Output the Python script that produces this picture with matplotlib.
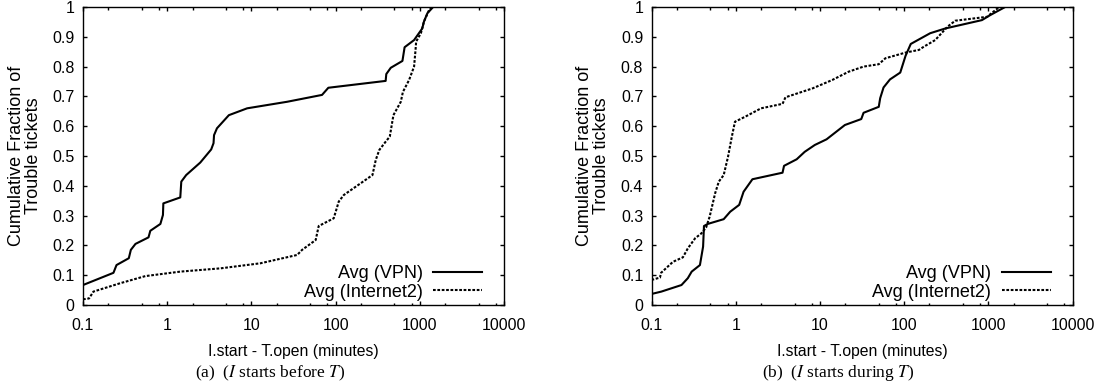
import matplotlib
matplotlib.use("Agg")
import matplotlib.pyplot as plt
from matplotlib.ticker import LogLocator, FixedLocator, NullFormatter

plt.rcParams["font.family"] = ["Liberation Sans", "DejaVu Sans"]
plt.rcParams["mathtext.fontset"] = "stix"

# (a) I starts before T
A_VPN_X = [0.1, 0.23, 0.25, 0.35, 0.37, 0.42, 0.60, 0.63, 0.83, 0.89, 0.90, 1.43, 1.47,
           1.68, 2.47, 3.33, 3.55, 3.6, 3.9, 5.4, 8.9, 26.6, 69, 82, 393, 400, 452, 622,
           660, 855, 1070, 1120, 1230, 1440]
A_VPN_Y = [0.067, 0.108, 0.134, 0.157, 0.185, 0.205, 0.227, 0.249, 0.272, 0.302, 0.341,
           0.361, 0.414, 0.436, 0.478, 0.522, 0.543, 0.570, 0.593, 0.637, 0.660, 0.682,
           0.705, 0.729, 0.752, 0.775, 0.796, 0.819, 0.865, 0.889, 0.928, 0.951, 0.979, 1.0]
A_I2_X = [0.1, 0.118, 0.133, 0.276, 0.55, 1.43, 4.3, 12.8, 35, 40, 58, 63, 95, 109, 125,
          274, 300, 330, 393, 440, 486, 595, 630, 746, 855, 890, 905, 1030, 1120, 1290, 1400]
A_I2_Y = [0.019, 0.022, 0.045, 0.073, 0.097, 0.112, 0.123, 0.140, 0.168, 0.185, 0.218,
          0.265, 0.291, 0.347, 0.369, 0.436, 0.487, 0.52, 0.548, 0.565, 0.637, 0.682,
          0.715, 0.755, 0.800, 0.856, 0.884, 0.912, 0.951, 0.99, 1.0]

# (b) I starts during T
B_VPN_X = [0.1, 0.131, 0.227, 0.27, 0.30, 0.376, 0.41, 0.42, 0.465, 0.72, 0.86, 1.1, 1.24,
           1.58, 3.6, 3.75, 5.3, 6.6, 8.7, 12, 19.8, 31, 33, 50, 52, 57, 68, 90, 104, 120,
           204, 309, 840, 1057, 1585]
B_VPN_Y = [0.037, 0.045, 0.067, 0.090, 0.112, 0.134, 0.196, 0.265, 0.272, 0.288, 0.313,
           0.336, 0.380, 0.422, 0.444, 0.467, 0.489, 0.514, 0.537, 0.556, 0.604, 0.624,
           0.645, 0.665, 0.694, 0.730, 0.757, 0.780, 0.836, 0.876, 0.912, 0.928, 0.956,
           0.973, 1.0]
B_I2_X = [0.1, 0.126, 0.13, 0.18, 0.236, 0.27, 0.33, 0.39, 0.445, 0.49, 0.57, 0.63, 0.72,
          0.81, 0.90, 0.98, 1.3, 2.0, 3.6, 3.9, 8.2, 14, 22, 33, 50, 60, 104, 150, 172, 234,
          328, 405, 965, 1350]
B_I2_Y = [0.084, 0.092, 0.108, 0.145, 0.160, 0.190, 0.224, 0.240, 0.260, 0.296, 0.375,
          0.414, 0.436, 0.497, 0.565, 0.615, 0.632, 0.660, 0.675, 0.697, 0.727, 0.755,
          0.783, 0.800, 0.808, 0.828, 0.847, 0.856, 0.867, 0.889, 0.934, 0.954, 0.967, 1.0]

X_TICKS = [0.1, 1, 10, 100, 1000, 10000]
X_TICKLABELS = ["0.1", "1", "10", "100", "1000", "10000"]
Y_TICKS = [i / 10 for i in range(11)]
Y_TICKLABELS = ["0", "0.1", "0.2", "0.3", "0.4", "0.5", "0.6", "0.7", "0.8", "0.9", "1"]
CAPTIONS = ["(a)  ($I$ starts before $T$)", "(b)  ($I$ starts during $T$)"]

W, H = 1106, 385
fig = plt.figure(figsize=(W / 100, H / 100), dpi=100)

panels = [
    (83, A_VPN_X, A_VPN_Y, A_I2_X, A_I2_Y, CAPTIONS[0]),
    (651.5, B_VPN_X, B_VPN_Y, B_I2_X, B_I2_Y, CAPTIONS[1]),
]
for left, vx, vy, ix, iy, cap in panels:
    ax = fig.add_axes([left / W, 80 / H, 421 / W, 298 / H])
    ax.plot(vx, vy, "-", color="black", lw=1.5, label="Avg (VPN)")
    ax.plot(ix, iy, color="black", lw=1.5, dashes=(1.3, 0.8), label="Avg (Internet2)")
    ax.set_xscale("log")
    ax.set_xlim(0.1, 10000)
    ax.set_ylim(0, 1)
    ax.xaxis.set_major_locator(FixedLocator(X_TICKS))
    ax.set_xticklabels(X_TICKLABELS)
    ax.xaxis.set_minor_locator(LogLocator(base=10, subs=(2, 5, 8)))
    ax.xaxis.set_minor_formatter(NullFormatter())
    ax.set_yticks(Y_TICKS)
    ax.set_yticklabels(Y_TICKLABELS)
    ax.tick_params(which="both", direction="in", top=True, right=True,
                   width=1.0, labelsize=11.5, colors="black")
    ax.tick_params(which="major", length=3.2)
    ax.tick_params(which="minor", length=1.8)
    ax.tick_params(axis="x", pad=9)
    ax.tick_params(axis="y", pad=6)
    for s in ax.spines.values():
        s.set_linewidth(1.0)
    ax.set_xlabel("I.start - T.open (minutes)", fontsize=11.3, labelpad=8)
    ax.set_ylabel("Cumulative Fraction of\nTrouble tickets", fontsize=13, linespacing=1.0)
    ax.yaxis.set_label_coords(-0.098, 0.5)
    ax.legend(loc="lower right", bbox_to_anchor=(0.948, 0.015), frameon=False,
              markerfirst=False, fontsize=13, handlelength=2.7, handletextpad=0.6,
              labelspacing=0.08, borderpad=0, borderaxespad=0)
    fig.text((left + 187) / W, 8 / H, cap, ha="center", va="baseline", fontsize=12.5,
             family="Liberation Serif")

fig.savefig("out.png", dpi=100)
